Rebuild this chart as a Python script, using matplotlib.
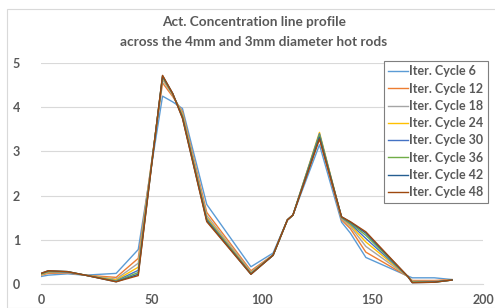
import matplotlib.pyplot as plt
from matplotlib.patches import Rectangle

# sample positions along the profile
x = [0, 3.3, 12, 20, 34, 44, 55, 59.6, 64, 75, 95, 105, 111.5, 114, 126,
     136, 140, 147, 166, 168, 178, 186]

cycle6 = [0.17, 0.20, 0.23, 0.20, 0.24, 0.78, 4.25, 4.12, 3.97, 1.80, 0.39, 0.70,
          1.45, 1.56, 3.15, 1.40, 1.15, 0.60, 0.18, 0.14, 0.14, 0.10]
cycle12 = [0.20, 0.24, 0.25, 0.20, 0.15, 0.58, 4.55, 4.24, 3.90, 1.62, 0.30, 0.66,
           1.45, 1.56, 3.30, 1.45, 1.25, 0.72, 0.17, 0.08, 0.08, 0.10]
cycle18 = [0.21, 0.26, 0.26, 0.20, 0.11, 0.47, 4.62, 4.27, 3.86, 1.55, 0.27, 0.65,
           1.45, 1.56, 3.38, 1.48, 1.30, 0.85, 0.17, 0.06, 0.06, 0.09]
cycle24 = [0.22, 0.27, 0.27, 0.20, 0.09, 0.38, 4.66, 4.29, 3.83, 1.50, 0.25, 0.65,
           1.45, 1.56, 3.43, 1.50, 1.33, 0.95, 0.17, 0.05, 0.05, 0.09]
cycle30 = [0.23, 0.28, 0.27, 0.20, 0.07, 0.31, 4.68, 4.30, 3.80, 1.47, 0.24, 0.65,
           1.45, 1.56, 3.40, 1.50, 1.36, 1.03, 0.17, 0.04, 0.05, 0.09]
cycle36 = [0.23, 0.29, 0.28, 0.20, 0.06, 0.26, 4.70, 4.30, 3.78, 1.45, 0.23, 0.65,
           1.45, 1.56, 3.37, 1.51, 1.38, 1.10, 0.17, 0.04, 0.04, 0.09]
cycle42 = [0.24, 0.30, 0.28, 0.20, 0.05, 0.22, 4.71, 4.31, 3.76, 1.43, 0.22, 0.65,
           1.45, 1.56, 3.32, 1.52, 1.40, 1.15, 0.17, 0.03, 0.04, 0.09]
cycle48 = [0.24, 0.30, 0.28, 0.20, 0.05, 0.19, 4.72, 4.31, 3.75, 1.41, 0.22, 0.65,
           1.45, 1.56, 3.28, 1.52, 1.41, 1.18, 0.17, 0.03, 0.04, 0.09]

series = [cycle6, cycle12, cycle18, cycle24, cycle30, cycle36, cycle42, cycle48]
labels = ['Iter. Cycle 6', 'Iter. Cycle 12', 'Iter. Cycle 18', 'Iter. Cycle 24',
          'Iter. Cycle 30', 'Iter. Cycle 36', 'Iter. Cycle 42', 'Iter. Cycle 48']
colors = ['#5B9BD5', '#ED7D31', '#A5A5A5', '#FFC000',
          '#4472C4', '#70AD47', '#255E91', '#9E480E']

xticks = [0, 50, 100, 150, 200]
yticks = [0, 1, 2, 3, 4, 5]

txt = '#595959'
plt.rcParams['font.family'] = ['Lato', 'DejaVu Sans']

fig = plt.figure(figsize=(4.95, 3.08), dpi=100)
ax = fig.add_axes([41 / 495, 1 - 284 / 308, 442 / 495, 221 / 308])

# outer chart frame
fig.patches.append(Rectangle((7 / 495, 0), 1, 1 - 9 / 308, transform=fig.transFigure,
                             fill=False, edgecolor='#D9D9D9', lw=0.8))

for ys, lab, c in zip(series, labels, colors):
    ax.plot(x, ys, color=c, lw=1.0, label=lab)

ax.set_xlim(0, 200)
ax.set_ylim(0, 5)
ax.set_xticks(xticks)
ax.set_yticks(yticks)
ax.grid(axis='y', color='#D9D9D9', lw=0.8)
ax.set_axisbelow(True)
for s in ['top', 'right', 'left']:
    ax.spines[s].set_visible(False)
ax.spines['bottom'].set_color('#D9D9D9')
ax.tick_params(length=0, labelsize=9, labelcolor=txt)
ax.tick_params(axis='y', pad=15)
ax.tick_params(axis='x', pad=7)
for t in ax.get_xticklabels() + ax.get_yticklabels():
    t.set_fontweight('bold')

fig.text(254 / 495, 1 - 22 / 308, 'Act. Concentration line profile', ha='center', va='center',
         fontsize=9.8, fontweight='bold', color=txt)
fig.text(254 / 495, 1 - 42 / 308, 'across the 4mm and 3mm diameter hot rods', ha='center',
         va='center', fontsize=9.8, fontweight='bold', color=txt)

leg = ax.legend(loc='upper right', bbox_to_anchor=(488 / 495, 1 - 61 / 308),
                bbox_transform=fig.transFigure, fontsize=9, handlelength=1.6,
                handletextpad=0.1, labelspacing=0.42, borderpad=0.35, fancybox=False,
                framealpha=1, edgecolor='#7F7F7F', borderaxespad=0)
leg.get_frame().set_linewidth(0.8)
for t in leg.get_texts():
    t.set_color(txt)
    t.set_fontweight('bold')

fig.savefig('out.png', dpi=100)
